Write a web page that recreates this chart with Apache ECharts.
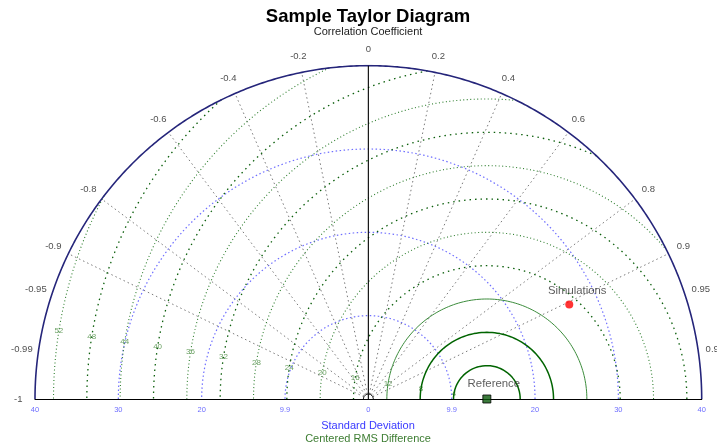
<!DOCTYPE html>
<html>
<head>
<meta charset="utf-8">
<script src="https://cdn.jsdelivr.net/npm/echarts@6/dist/echarts.min.js"></script>
<style>
  html, body { margin: 0; padding: 0; background: #ffffff; }
  #chart { width: 717px; height: 447px; }
</style>
</head>
<body>
<div id="chart"></div>
<script>
// Taylor diagram: radius = standard deviation, angle = acos(correlation)
const maxStd = 40;
const stdArcs = [10, 20, 30];
const stdTickValues = [-40, -30, -20, -10, 0, 10, 20, 30, 40];
const stdTickLabels = ['40', '30', '20', '9.9', '0', '9.9', '20', '30', '40'];

const corrLines = [-0.9, -0.8, -0.6, -0.4, -0.2, 0.2, 0.4, 0.6, 0.8, 0.9];
const corrLabelValues = [-1, -0.99, -0.95, -0.9, -0.8, -0.6, -0.4, -0.2, 0, 0.2, 0.4, 0.6, 0.8, 0.9, 0.95, 0.99];
const corrLabelTexts = ['-1', '-0.99', '-0.95', '-0.9', '-0.8', '-0.6', '-0.4', '-0.2', '0', '0.2', '0.4', '0.6', '0.8', '0.9', '0.95', '0.99'];

const rmsLevels = [4, 8, 12, 16, 20, 24, 28, 32, 36, 40, 44, 48, 52];
const rmsLabelTexts = ['4', '8', '12', '16', '20', '24', '28', '32', '36', '40', '44', '48', '52'];

const refName = 'Reference';
const refStd = 14.22;
const simName = 'Simulations';
const simStd = 26.64;
const simCorr = 0.905;

const FONT = '"Liberation Sans", Arial, sans-serif';

// ---- geometry helpers ----
const polar = (r, corr) => [r * corr, r * Math.sqrt(Math.max(0, 1 - corr * corr))];

function arc(cx, r, t0, t1, n) {
  const pts = [];
  for (let i = 0; i <= n; i++) {
    const t = t0 + (t1 - t0) * i / n;
    pts.push([cx + r * Math.cos(t), r * Math.sin(t)]);
  }
  return pts;
}

// RMS circle around the reference, kept inside the outer std arc
function rmsArc(r) {
  let c = (maxStd * maxStd - refStd * refStd - r * r) / (2 * refStd * r);
  c = Math.max(-1, Math.min(1, c));
  return arc(refStd, r, Math.acos(c), Math.PI, 240);
}

const series = [];

// std-dev arcs
stdArcs.forEach(s => series.push({
  type: 'line', data: arc(0, s, 0, Math.PI, 240), showSymbol: false, silent: true, z: 2,
  lineStyle: { color: '#6f6fff', width: 1.2, type: [1.5, 2.5] }
}));

// correlation rays
corrLines.forEach(c => series.push({
  type: 'line', data: [polar(0.6, c), polar(maxStd, c)], showSymbol: false, silent: true, z: 2,
  lineStyle: { color: '#7a7a7a', width: 1, type: [1.5, 3] }
}));

// RMS difference circles
rmsLevels.forEach((r, i) => {
  let ls;
  if (r <= 8) ls = { color: '#006400', width: 1.5, type: 'solid' };
  else if (r === 12) ls = { color: '#3c8c3c', width: 1, type: 'solid' };
  else ls = i % 2 ? { color: '#0c5f0c', width: 1.3, type: [1.5, 4] }
                  : { color: '#2f7f2f', width: 1.1, type: [1, 2.5] };
  series.push({ type: 'line', data: rmsArc(r), showSymbol: false, silent: true, z: 3, lineStyle: ls });
});

// RMS labels along a ray from the reference point
const labAng = 171 * Math.PI / 180;
series.push({
  type: 'scatter', clip: false, silent: true, z: 1, symbolSize: 1,
  itemStyle: { color: 'rgba(0,0,0,0)' },
  data: rmsLevels.map((r, i) => ({ value: [refStd + r * Math.cos(labAng), r * Math.sin(labAng)], name: rmsLabelTexts[i] })),
  label: { show: true, position: 'inside', formatter: p => p.name, color: '#468a3c', fontSize: 8, fontFamily: FONT }
});

// outer std arc
series.push({
  type: 'line', data: arc(0, maxStd, 0, Math.PI, 360), showSymbol: false, silent: true, z: 4,
  lineStyle: { color: '#25257a', width: 1.6 }
});

// zero-correlation axis
series.push({
  type: 'line', data: [polar(0, 0), polar(maxStd, 0)], showSymbol: false, silent: true, z: 4,
  lineStyle: { color: '#000000', width: 1.1 }
});

// small origin arc
series.push({
  type: 'line', data: arc(0, 0.6, 0, Math.PI, 40), showSymbol: false, silent: true, z: 4,
  lineStyle: { color: '#222222', width: 1 }
});

// correlation labels around the outer arc
series.push({
  type: 'scatter', clip: false, silent: true, z: 5, symbolSize: 1,
  itemStyle: { color: 'rgba(0,0,0,0)' },
  data: corrLabelValues.map((c, i) => ({ value: polar(42, c), name: corrLabelTexts[i] })),
  label: { show: true, position: 'inside', formatter: p => p.name, color: '#222222', fontSize: 9.5, fontFamily: FONT }
});

// reference point
series.push({
  type: 'scatter', clip: false, silent: true, z: 6, symbol: 'rect', symbolSize: 8,
  itemStyle: { color: '#0b5a0b', borderColor: '#000000', borderWidth: 1 },
  data: [{ value: [refStd, 0], name: refName }],
  label: { show: true, position: 'top', offset: [7, 0], formatter: p => p.name, color: '#333333', fontSize: 11.4, fontFamily: FONT }
});

// simulation point
series.push({
  type: 'scatter', clip: false, silent: true, z: 6, symbol: 'circle', symbolSize: 8,
  itemStyle: { color: '#ff0000' },
  data: [{ value: polar(simStd, simCorr), name: simName }],
  label: { show: true, position: 'top', offset: [8, 1], formatter: p => p.name, color: '#333333', fontSize: 11.3, fontFamily: FONT }
});

const chart = echarts.init(document.getElementById('chart'), null, { renderer: 'canvas' });
chart.setOption({
  animation: false,
  backgroundColor: '#ffffff',
  grid: { left: 35, right: 15.3, top: 65.65, bottom: 48 },
  xAxis: {
    type: 'value', min: -40, max: 40, interval: 10,
    axisLine: { show: true, onZero: false, lineStyle: { color: '#000000', width: 1.2 } },
    axisTick: { show: false }, splitLine: { show: false },
    axisLabel: {
      color: '#6d6dff', fontSize: 7.5, margin: 7, fontFamily: FONT,
      formatter: v => { const k = stdTickValues.indexOf(Math.round(v)); return k >= 0 ? stdTickLabels[k] : ''; }
    }
  },
  yAxis: { type: 'value', min: 0, max: 40, show: false },
  graphic: [
    { type: 'text', x: 368, y: 17,
      style: { text: 'Sample Taylor Diagram', fill: '#000000', align: 'center', verticalAlign: 'middle',
               font: 'bold 18.5px ' + FONT } },
    { type: 'text', x: 368, y: 32,
      style: { text: 'Correlation Coefficient', fill: '#222222', align: 'center', verticalAlign: 'middle',
               font: '11px ' + FONT } },
    { type: 'text', x: 368, y: 426,
      style: { text: 'Standard Deviation', fill: '#3a3aff', align: 'center', verticalAlign: 'middle',
               font: '11px ' + FONT } },
    { type: 'text', x: 368, y: 439,
      style: { text: 'Centered RMS Difference', fill: '#3d7d32', align: 'center', verticalAlign: 'middle',
               font: '11px ' + FONT } }
  ],
  series: series
});
</script>
</body>
</html>
